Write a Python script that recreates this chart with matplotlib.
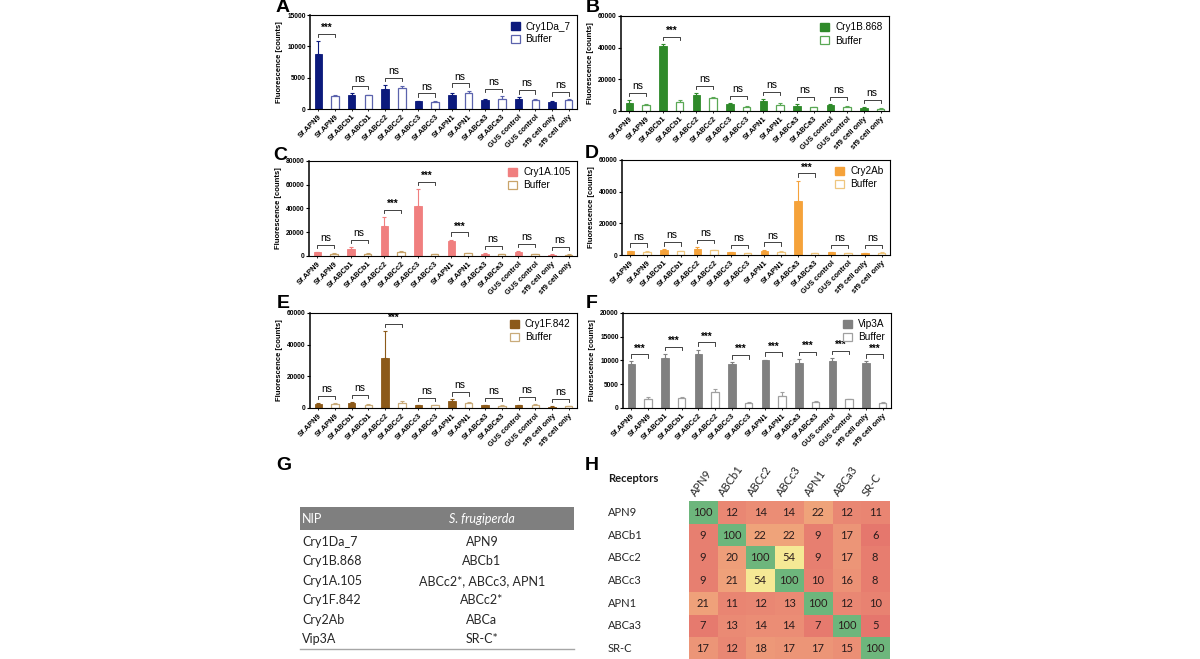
import matplotlib
matplotlib.use('Agg')
import matplotlib.pyplot as plt
import numpy as np
from matplotlib.colors import LinearSegmentedColormap
from matplotlib.patches import Patch, Rectangle
from matplotlib.lines import Line2D

plt.rcParams['font.family'] = ['Liberation Sans', 'DejaVu Sans']

# ---------------- data ----------------
categories = ["Sf.APN9", "Sf.APN9", "Sf.ABCb1", "Sf.ABCb1", "Sf.ABCc2", "Sf.ABCc2",
              "Sf.ABCc3", "Sf.ABCc3", "Sf.APN1", "Sf.APN1", "Sf.ABCa3", "Sf.ABCa3",
              "GUS control", "GUS control", "sf9 cell only", "sf9 cell only"]

a_prot = [8800, 2200, 3200, 1200, 2250, 1450, 1550, 1150]
a_prot_err = [2100, 350, 600, 150, 350, 80, 300, 100]
a_buf = [2100, 2200, 3350, 1050, 2600, 1650, 1450, 1400]
a_buf_err = [200, 100, 300, 250, 350, 400, 200, 150]
a_sig = ["***", "ns", "ns", "ns", "ns", "ns", "ns", "ns"]

b_prot = [5200, 41000, 10000, 4300, 6500, 3000, 3800, 2000]
b_prot_err = [1800, 1300, 1500, 700, 1300, 1300, 500, 500]
b_buf = [3800, 5500, 8500, 2500, 4000, 2500, 2500, 1500]
b_buf_err = [800, 1500, 600, 500, 1200, 300, 500, 500]
b_sig = ["ns", "***", "ns", "ns", "ns", "ns", "ns", "ns"]

c_prot = [3200, 5600, 25300, 42500, 12800, 2000, 3000, 1200]
c_prot_err = [400, 2000, 7500, 14000, 1000, 300, 1200, 200]
c_buf = [2000, 2000, 3000, 1500, 2200, 1500, 1500, 1200]
c_buf_err = [500, 500, 1500, 300, 500, 300, 300, 300]
c_sig = ["ns", "ns", "***", "***", "***", "ns", "ns", "ns"]

d_prot = [2500, 3200, 4000, 1800, 2700, 34000, 1800, 1200]
d_prot_err = [300, 300, 900, 300, 700, 13000, 300, 300]
d_buf = [2000, 2500, 3000, 1000, 2000, 1000, 1200, 1500]
d_buf_err = [500, 300, 300, 300, 300, 200, 200, 400]
d_sig = ["ns", "ns", "ns", "ns", "ns", "***", "ns", "ns"]

e_prot = [2600, 3200, 31500, 1600, 4200, 1600, 1800, 800]
e_prot_err = [700, 700, 17000, 200, 1200, 400, 300, 200]
e_buf = [2500, 2000, 3000, 1800, 3300, 1500, 2000, 1000]
e_buf_err = [400, 300, 1200, 300, 400, 300, 400, 200]
e_sig = ["ns", "ns", "***", "ns", "ns", "ns", "ns", "ns"]

f_prot = [9200, 10600, 11300, 9300, 10000, 9500, 9800, 9500]
f_prot_err = [600, 800, 1000, 300, 200, 800, 700, 300]
f_buf = [1800, 2200, 3300, 1000, 2600, 1300, 1800, 1100]
f_buf_err = [600, 100, 600, 200, 800, 200, 200, 200]
f_sig = ["***"] * 8

table_nip = ["Cry1Da_7", "Cry1B.868", "Cry1A.105", "Cry1F.842", "Cry2Ab", "Vip3A"]
table_receptor = ["APN9", "ABCb1", "ABCc2*, ABCc3, APN1", "ABCc2*", "ABCa", "SR-C*"]

receptors = ["APN9", "ABCb1", "ABCc2", "ABCc3", "APN1", "ABCa3", "SR-C"]
identity = [
    [100, 12, 14, 14, 22, 12, 11],
    [9, 100, 22, 22, 9, 17, 6],
    [9, 20, 100, 54, 9, 17, 8],
    [9, 21, 54, 100, 10, 16, 8],
    [21, 11, 12, 13, 100, 12, 10],
    [7, 13, 14, 14, 7, 100, 5],
    [17, 12, 18, 17, 17, 15, 100],
]

# ---------------- layout ----------------
W, H = 1200, 659
fig = plt.figure(figsize=(12, 6.59), dpi=100)


def box(x0, y0, x1, y1):
    return [x0 / W, 1 - y1 / H, (x1 - x0) / W, (y1 - y0) / H]


def bar_panel(rect, letter, lpos, prot, prot_err, buf, buf_err, sig, ymax, ystep,
              name, col, bufcol):
    ax = fig.add_axes(rect)
    n = len(prot)
    xp = np.arange(n) * 2
    xb = xp + 1
    w = 0.45
    prot = np.array(prot, float)
    buf = np.array(buf, float)
    prot_err = np.array(prot_err, float)
    buf_err = np.array(buf_err, float)
    ax.bar(xp, prot, w, color=col, edgecolor=col, lw=0.6, zorder=2)
    ax.bar(xb, buf, w, color='white', edgecolor=bufcol, lw=0.9, zorder=2)
    ax.errorbar(xp, prot, yerr=[np.zeros(n), prot_err], fmt='none', ecolor=col,
                elinewidth=0.8, capsize=1.6, capthick=0.8, zorder=1)
    ax.errorbar(xb, buf, yerr=[np.zeros(n), buf_err], fmt='none', ecolor=bufcol,
                elinewidth=0.8, capsize=1.6, capthick=0.8, zorder=1)
    for i in range(n):
        top = max(prot[i] + prot_err[i], buf[i] + buf_err[i])
        yb = top + 0.075 * ymax
        tick = 0.035 * ymax
        ax.plot([xp[i], xp[i], xb[i], xb[i]], [yb - tick, yb, yb, yb - tick],
                color='#222222', lw=0.6, zorder=3)
        if sig[i] == "***":
            ax.text((xp[i] + xb[i]) / 2, yb + 0.01 * ymax, sig[i], ha='center',
                    va='bottom', fontsize=7, fontweight='bold')
        else:
            ax.text((xp[i] + xb[i]) / 2, yb + 0.02 * ymax, sig[i], ha='center',
                    va='bottom', fontsize=7.5)
    ax.set_xlim(-0.5, 2 * n - 0.5)
    ax.set_ylim(0, ymax)
    ax.set_yticks(np.arange(0, ymax + 1, ystep))
    ax.set_xticks(np.arange(2 * n))
    ax.set_xticklabels(categories, rotation=45, ha='right', rotation_mode='anchor',
                       fontsize=5.4, fontweight='bold')
    for lab in ax.get_yticklabels():
        lab.set_fontweight('bold')
    ax.tick_params(axis='y', labelsize=4.8, length=2, width=0.8, pad=1)
    ax.tick_params(axis='x', length=1.5, width=0.6, pad=1.5)
    for s in ax.spines.values():
        s.set_linewidth(0.8)
    ax.spines['left'].set_linewidth(1.1)
    ax.set_ylabel("Fluorescence [counts]", fontsize=5.5, fontweight='bold')
    ax.yaxis.set_label_coords(-0.10, 0.5)
    handles = [Patch(facecolor=col, edgecolor=col),
               Patch(facecolor='white', edgecolor=bufcol, linewidth=0.9)]
    ax.legend(handles, [name, "Buffer"], loc='upper right', frameon=False,
              fontsize=7.2, handlelength=0.9, handleheight=0.9, handletextpad=0.6,
              labelspacing=0.3, borderaxespad=0.25)
    fig.text(lpos[0] / W, 1 - lpos[1] / H, letter, fontsize=14, fontweight='bold',
             ha='center', va='center')
    return ax


bar_panel(box(310, 15, 577, 109), "A", (283, 7), a_prot, a_prot_err, a_buf, a_buf_err,
          a_sig, 15000, 5000, "Cry1Da_7", '#0c1a7c', '#5b63ad')
bar_panel(box(621, 16, 889, 111), "B", (593, 8), b_prot, b_prot_err, b_buf, b_buf_err,
          b_sig, 60000, 20000, "Cry1B.868", '#2f8a2a', '#5aa855')
bar_panel(box(309, 161, 577, 256), "C", (280, 155), c_prot, c_prot_err, c_buf, c_buf_err,
          c_sig, 80000, 20000, "Cry1A.105", '#f07f7f', '#c9a46a')
bar_panel(box(622, 160, 890, 255), "D", (592, 154), d_prot, d_prot_err, d_buf, d_buf_err,
          d_sig, 60000, 20000, "Cry2Ab", '#f5a23a', '#efc67e')
bar_panel(box(310, 313, 577, 408), "E", (283, 304), e_prot, e_prot_err, e_buf, e_buf_err,
          e_sig, 60000, 20000, "Cry1F.842", '#8c5a1a', '#c9ab7a')
bar_panel(box(623, 313, 891, 408), "F", (592, 304), f_prot, f_prot_err, f_buf, f_buf_err,
          f_sig, 20000, 5000, "Vip3A", '#808080', '#a0a0a0')

# ---------------- panel G (table) ----------------
tfont = ['Lato', 'DejaVu Sans']
fig.text(284 / W, 1 - 466 / H, "G", fontsize=14, fontweight='bold', ha='center', va='center')
fig.patches.append(Rectangle((300 / W, 1 - 530 / H), 274 / W, 23 / H,
                             transform=fig.transFigure, facecolor='#7f7f7f',
                             edgecolor='none'))
fig.text(302 / W, 1 - 519 / H, "NIP", fontsize=9, color='white', ha='left', va='center',
         family=tfont)
fig.text(482 / W, 1 - 519 / H, "S. frugiperda", fontsize=9, color='white', ha='center',
         va='center', style='italic', family=tfont)
row_y0, row_dy = 542, 19.4
for i, (nip, rec) in enumerate(zip(table_nip, table_receptor)):
    yy = 1 - (row_y0 + i * row_dy) / H
    fig.text(302 / W, yy, nip, fontsize=9, color='#262626', ha='left', va='center',
             family=tfont)
    fig.text(482 / W, yy, rec, fontsize=9, color='#262626', ha='center', va='center',
             family=tfont)
fig.add_artist(Line2D([300 / W, 574 / W], [1 - 649 / H, 1 - 649 / H],
                      transform=fig.transFigure, color='#a6a6a6', lw=1.0))

# ---------------- panel H (heatmap) ----------------
fig.text(592 / W, 1 - 465 / H, "H", fontsize=14, fontweight='bold', ha='center', va='center')
mat = np.array(identity, float)
cmap = LinearSegmentedColormap.from_list(
    "rg", [(0.0, '#e5766d'), (0.074, '#ea8874'), (0.179, '#f0a47b'),
           (0.516, '#f6ea96'), (1.0, '#6db67c')])
axh = fig.add_axes(box(688.5, 501, 889.5, 660))
axh.imshow(mat, cmap=cmap, vmin=5, vmax=100, aspect='auto', interpolation='nearest')
for i in range(mat.shape[0]):
    for j in range(mat.shape[1]):
        axh.text(j, i, f"{int(mat[i, j])}", ha='center', va='center', fontsize=8,
                 color='#2a1c1c', family=tfont)
axh.set_xticks([])
axh.set_yticks([])
for s in axh.spines.values():
    s.set_visible(False)
cell_w = (889.5 - 688.5) / 7
for j, lab in enumerate(receptors):
    axh.text(j - 0.2, -0.62, lab, rotation=55, ha='left', va='bottom',
             rotation_mode='anchor', fontsize=8, color='#262626', family=tfont,
             clip_on=False)
xlab = -0.5 - (688.5 - 608) / cell_w
for i, lab in enumerate(receptors):
    axh.text(xlab, i, lab, ha='left', va='center', fontsize=8, color='#262626',
             family=tfont, clip_on=False)
axh.text(xlab, -0.5 - (501 - 479) / 22.7, "Receptors", ha='left', va='center',
         fontsize=8, fontweight='bold', color='#1a1a1a', family=tfont, clip_on=False)

fig.savefig("out.png", dpi=100)
